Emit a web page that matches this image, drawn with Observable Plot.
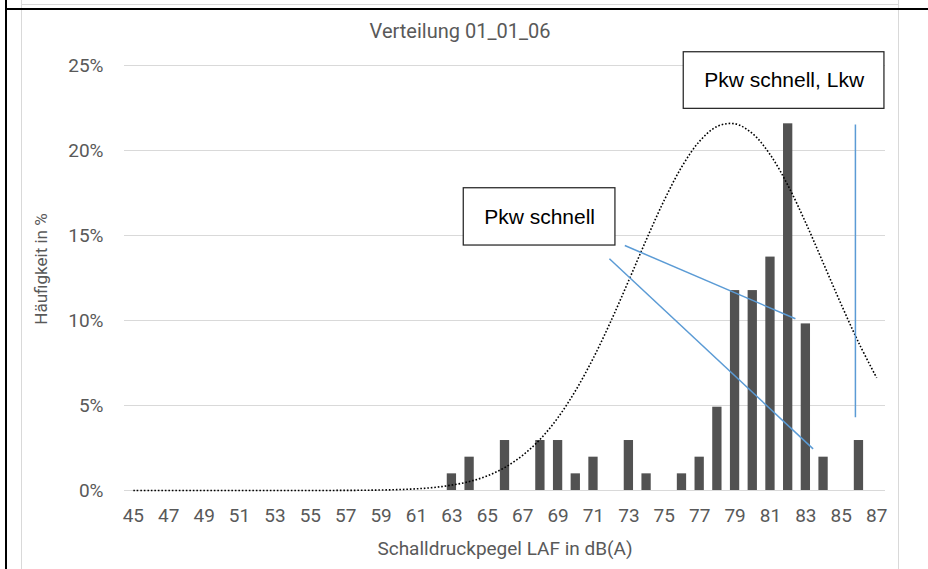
<!DOCTYPE html>
<html>
<head>
<meta charset="utf-8">
<script src="https://cdn.jsdelivr.net/npm/d3@7"></script>
<script src="https://cdn.jsdelivr.net/npm/@observablehq/plot@0.6"></script>
<style>
  html, body { margin: 0; padding: 0; background: #fff; }
  #wrap { position: relative; width: 928px; height: 569px; overflow: hidden; background: #fff; }
  .ln { position: absolute; }
  #title { position: absolute; left: 22px; width: 876px; top: 19px; text-align: center;
           font-family: Roboto, sans-serif; font-size: 20px; line-height: 24px; color: #595959; }
  #chart { position: absolute; left: 0; top: 0; }
</style>
</head>
<body>
<div id="wrap">
  <div class="ln" style="left:21px;top:0;width:1px;height:569px;background:#d9d9d9"></div>
  <div class="ln" style="left:898px;top:0;width:1px;height:569px;background:#d9d9d9"></div>
  <div class="ln" style="left:22px;top:4px;width:876px;height:1px;background:#d9d9d9"></div>
  <div id="chart"></div>
  <div class="ln" style="left:5px;top:0;width:2px;height:569px;background:#000"></div>
  <div class="ln" style="left:5px;top:8px;width:923px;height:2px;background:#000"></div>
  <div id="title">Verteilung 01_01_06</div>
</div>
<script>
// Bars: sound pressure level (dB(A)) and share in %
const levels = [63, 64, 66, 68, 69, 70, 71, 73, 74, 76, 77, 78, 79, 80, 81, 82, 83, 84, 86];
const shares = [0.98, 1.96, 2.94, 2.94, 2.94, 0.98, 1.96, 2.94, 0.98, 0.98, 1.96, 4.9, 11.76, 11.76, 13.73, 21.57, 9.8, 1.96, 2.94];

// Dotted distribution curve
const curveLevels = [45, 46, 47, 48, 49, 50, 51, 52, 53, 54, 55, 56, 57, 58, 59, 60, 61, 62, 63, 64, 65, 66,
                     67, 68, 69, 70, 71, 72, 73, 74, 75, 76, 77, 78, 79, 80, 81, 82, 83, 84, 85, 86, 87];
const curveShares = [0, 0, 0, 0, 0, 0, 0, 0, 0, 0, 0, 0.003, 0.007, 0.014, 0.028, 0.054, 0.10, 0.18, 0.32, 0.53, 0.86, 1.36,
                     2.07, 3.03, 4.30, 5.90, 7.81, 10.0, 12.37, 14.79, 17.08, 19.06, 20.55, 21.42, 21.57, 20.98, 19.73, 17.92, 15.73, 13.34, 10.94, 8.66, 6.63];

// Tick labels
const xTicks = [45, 47, 49, 51, 53, 55, 57, 59, 61, 63, 65, 67, 69, 71, 73, 75, 77, 79, 81, 83, 85, 87];
const yTicks = [0, 5, 10, 15, 20, 25];

// Text
const xLabel = "Schalldruckpegel LAF in dB(A)";
const yLabel = "Häufigkeit in %";

// Annotations (in data units: dB(A), %)
const boxLabels = ["Pkw schnell", "Pkw schnell, Lkw"];
const boxX1 = [63.67, 76.1];
const boxX2 = [72.24, 87.44];
const boxY1 = [14.41, 22.45];
const boxY2 = [17.78, 25.78];
const calloutX1 = [72.77, 71.90, 85.8];
const calloutY1 = [14.41, 13.63, 21.53];
const calloutX2 = [82.41, 83.41, 85.8];
const calloutY2 = [10.1, 2.45, 4.31];

const bars = levels.map((db, i) => ({db, pct: shares[i]}));
const curve = curveLevels.map((db, i) => ({db, pct: curveShares[i]}));
const boxes = boxLabels.map((label, i) => ({label, x1: boxX1[i], x2: boxX2[i], y1: boxY1[i], y2: boxY2[i]}));
const callouts = calloutX1.map((x1, i) => ({x1, y1: calloutY1[i], x2: calloutX2[i], y2: calloutY2[i]}));

const plot = Plot.plot({
  width: 928,
  height: 569,
  marginTop: 65,
  marginBottom: 79,
  marginLeft: 124,
  marginRight: 43,
  style: {fontFamily: "Roboto, sans-serif", fontSize: "19px", color: "#595959", background: "transparent", overflow: "visible"},
  x: {type: "linear", domain: [44.5, 87.5]},
  y: {domain: [0, 25]},
  marks: [
    Plot.gridY(yTicks, {stroke: "#d9d9d9", strokeOpacity: 1}),
    Plot.axisY({ticks: yTicks, tickFormat: d => d + "%", tickSize: 0, tickPadding: 21, label: null}),
    Plot.axisX({ticks: xTicks, tickFormat: d => String(d), tickSize: 0, tickPadding: 18, label: null}),
    Plot.rectY(bars, {x1: d => d.db - 0.5, x2: d => d.db + 0.5, y1: 0, y2: "pct", insetLeft: 4.2, insetRight: 4.2, fill: "#525252"}),
    Plot.ruleY([0], {stroke: "#d9d9d9"}),
    Plot.line(curve, {x: "db", y: "pct", stroke: "#000", strokeWidth: 1.6, strokeDasharray: "1.6,1.9", strokeLinecap: "butt", curve: "catmull-rom"}),
    Plot.link(callouts, {x1: "x1", y1: "y1", x2: "x2", y2: "y2", stroke: "#5B9BD5", strokeWidth: 1.5}),
    Plot.rect(boxes, {x1: "x1", x2: "x2", y1: "y1", y2: "y2", fill: "#fff", stroke: "#262626", strokeWidth: 1.25}),
    Plot.text(boxes, {x: d => (d.x1 + d.x2) / 2, y: d => (d.y1 + d.y2) / 2, text: "label", fontFamily: "'Liberation Sans', Arial, sans-serif", fontSize: 21, fill: "#000"}),
    Plot.text([xLabel], {frameAnchor: "bottom", dy: 58, lineAnchor: "middle", fontSize: 19, fill: "#595959"}),
    Plot.text([yLabel], {frameAnchor: "left", dx: -83, dy: -9, rotate: -90, textAnchor: "middle", lineAnchor: "middle", fontSize: 17, fill: "#595959"})
  ]
});
document.getElementById("chart").appendChild(plot);
</script>
</body>
</html>
